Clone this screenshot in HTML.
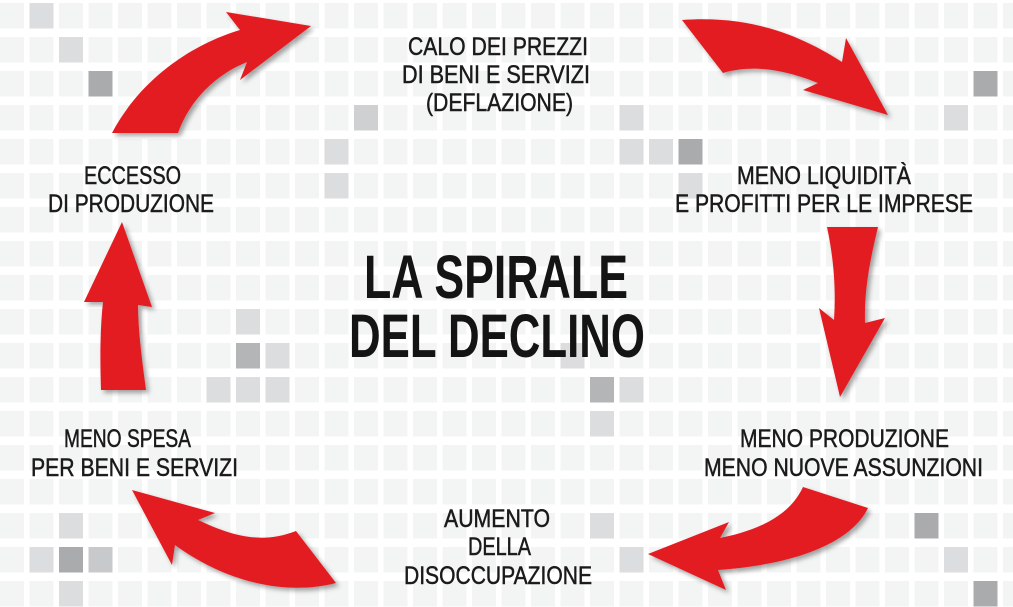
<!DOCTYPE html>
<html><head><meta charset="utf-8"><style>
html,body{margin:0;padding:0;background:#fff;}
svg{display:block;}
.l{font-family:"Liberation Sans Narrow","Liberation Sans",sans-serif;font-size:25px;fill:#1a1a1a;stroke:#1a1a1a;stroke-width:0.5px;}
.t{font-family:"Liberation Sans Narrow","Liberation Sans",sans-serif;font-size:61px;font-weight:bold;fill:#141414;}
</style></head><body>
<svg width="1013" height="607" viewBox="0 0 1013 607" xmlns="http://www.w3.org/2000/svg">
<defs>
<pattern id="g" x="0" y="3" width="29.5" height="34" patternUnits="userSpaceOnUse">
<rect x="0" y="0" width="24" height="25.5" fill="#f3f4f4"/>
</pattern>
<filter id="sh" x="-20%" y="-20%" width="140%" height="140%">
<feDropShadow dx="3" dy="3" stdDeviation="2.5" flood-color="#000" flood-opacity="0.35"/>
</filter>
</defs>
<rect width="1013" height="607" fill="#fff"/>
<rect width="1013" height="607" fill="url(#g)"/>
<g>
<rect x="29.5" y="3" width="24" height="25.5" fill="#dcdddf"/>
<rect x="59" y="37" width="24" height="25.5" fill="#dcdddf"/>
<rect x="88.5" y="71" width="24" height="25.5" fill="#a9abad"/>
<rect x="354" y="105" width="24" height="25.5" fill="#cfd0d2"/>
<rect x="324.5" y="139" width="24" height="25.5" fill="#dcdddf"/>
<rect x="324.5" y="173" width="24" height="25.5" fill="#dcdddf"/>
<rect x="619.5" y="105" width="24" height="25.5" fill="#dcdddf"/>
<rect x="619.5" y="139" width="24" height="25.5" fill="#dcdddf"/>
<rect x="649" y="139" width="24" height="25.5" fill="#dcdddf"/>
<rect x="678.5" y="139" width="24" height="25.5" fill="#a9abad"/>
<rect x="678.5" y="173" width="24" height="25.5" fill="#dcdddf"/>
<rect x="973.5" y="71" width="24" height="25.5" fill="#a9abad"/>
<rect x="944" y="105" width="24" height="25.5" fill="#dcdddf"/>
<rect x="236" y="309" width="24" height="25.5" fill="#dcdddf"/>
<rect x="236" y="343" width="24" height="25.5" fill="#b3b5b7"/>
<rect x="265.5" y="343" width="24" height="25.5" fill="#dcdddf"/>
<rect x="206.5" y="377" width="24" height="25.5" fill="#dcdddf"/>
<rect x="236" y="377" width="24" height="25.5" fill="#dcdddf"/>
<rect x="265.5" y="377" width="24" height="25.5" fill="#dcdddf"/>
<rect x="560.5" y="343" width="24" height="25.5" fill="#dcdddf"/>
<rect x="590" y="377" width="24" height="25.5" fill="#b3b5b7"/>
<rect x="619.5" y="377" width="24" height="25.5" fill="#dcdddf"/>
<rect x="590" y="411" width="24" height="25.5" fill="#dcdddf"/>
<rect x="59" y="513" width="24" height="25.5" fill="#dcdddf"/>
<rect x="29.5" y="547" width="24" height="25.5" fill="#dcdddf"/>
<rect x="59" y="547" width="24" height="25.5" fill="#a9abad"/>
<rect x="88.5" y="547" width="24" height="25.5" fill="#c8c9cb"/>
<rect x="59" y="581" width="24" height="25.5" fill="#dcdddf"/>
<rect x="590" y="513" width="24" height="25.5" fill="#dcdddf"/>
<rect x="619.5" y="547" width="24" height="25.5" fill="#dcdddf"/>
<rect x="914.5" y="513" width="24" height="25.5" fill="#a9abad"/>
<rect x="944" y="547" width="24" height="25.5" fill="#dcdddf"/>
<rect x="973.5" y="581" width="24" height="25.5" fill="#a9abad"/>
</g>
<g fill="#e31c23" filter="url(#sh)">
<path d="M112,133 C140,80 190,45 240,30 L226,12 L311,26 L240,80 L247,62 C215,75 190,100 178,133 Z"/>
<path d="M682,20 C750,15 800,35 842,62 L846,38 L888,115 L803,90 L818,83 C780,68 750,65 723,73 Z"/>
<path d="M827,227 L878,227 C870,260 864,290 865,323 L885,318 L840,397 L819,308 L834,320 C836,290 834,260 827,227 Z"/>
<path d="M803,487 C790,515 760,530 720,538 L729,522 L648,554 L726,590 L718,570 C790,565 850,545 868,508 Z"/>
<path d="M296,531 C260,545 230,535 198,520 L215,513 L132,490 L172,565 L175,545 C230,585 290,595 336,583 Z"/>
<path d="M101,390 C100,360 100,330 103,302 L84,302 L122,222 L152,307 L138,305 C138,330 142,360 146,390 Z"/>
</g>
<g class="l">
<text x="408" y="55" textLength="180" lengthAdjust="spacingAndGlyphs">CALO DEI PREZZI</text>
<text x="402" y="83" textLength="188" lengthAdjust="spacingAndGlyphs">DI BENI E SERVIZI</text>
<text x="426" y="111" textLength="147" lengthAdjust="spacingAndGlyphs">(DEFLAZIONE)</text>
<text x="84" y="184" textLength="97" lengthAdjust="spacingAndGlyphs">ECCESSO</text>
<text x="48" y="212" textLength="166" lengthAdjust="spacingAndGlyphs">DI PRODUZIONE</text>
<text x="737" y="184" textLength="174" lengthAdjust="spacingAndGlyphs">MENO LIQUIDITÀ</text>
<text x="675" y="212" textLength="298" lengthAdjust="spacingAndGlyphs">E PROFITTI PER LE IMPRESE</text>
<text x="740" y="447" textLength="209" lengthAdjust="spacingAndGlyphs">MENO PRODUZIONE</text>
<text x="704" y="476" textLength="279" lengthAdjust="spacingAndGlyphs">MENO NUOVE ASSUNZIONI</text>
<text x="64" y="447" textLength="127" lengthAdjust="spacingAndGlyphs">MENO SPESA</text>
<text x="31" y="476" textLength="207" lengthAdjust="spacingAndGlyphs">PER BENI E SERVIZI</text>
<text x="444" y="527" textLength="106" lengthAdjust="spacingAndGlyphs">AUMENTO</text>
<text x="468" y="555" textLength="63" lengthAdjust="spacingAndGlyphs">DELLA</text>
<text x="404" y="584" textLength="188" lengthAdjust="spacingAndGlyphs">DISOCCUPAZIONE</text>
</g>
<g class="t">
<text x="364" y="298" textLength="264" lengthAdjust="spacingAndGlyphs">LA SPIRALE</text>
<text x="349" y="357" textLength="296" lengthAdjust="spacingAndGlyphs">DEL DECLINO</text>
</g>
</svg>
</body></html>
